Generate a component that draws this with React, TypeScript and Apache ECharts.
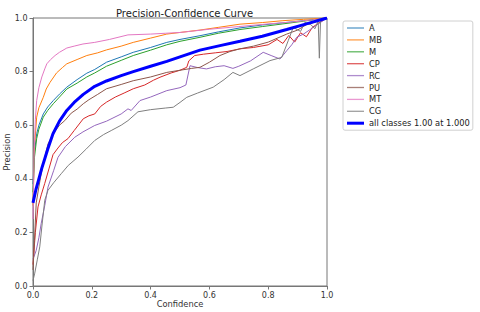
import React, { useEffect, useRef } from "react";
import * as echarts from "echarts";

const classNames = ["A", "MB", "M", "CP", "RC", "PU", "MT", "CG"];
const classColors = ["#1f77b4", "#ff7f0e", "#2ca02c", "#d62728", "#9467bd", "#8c564b", "#e377c2", "#7f7f7f"];
const allName = "all classes 1.00 at 1.000";

const curveA = [[0,0.38],[0.005,0.5],[0.0125,0.568],[0.02,0.6],[0.035,0.642],[0.05,0.668],[0.069,0.692],[0.09,0.716],[0.115,0.742],[0.15,0.77],[0.183,0.794],[0.21,0.808],[0.25,0.835],[0.3,0.855],[0.341,0.872],[0.4,0.89],[0.455,0.909],[0.5,0.92],[0.568,0.934],[0.63,0.948],[0.704,0.963],[0.78,0.974],[0.85,0.982],[0.92,0.99],[0.96,0.995],[1,1]];
const curveMB = [[0,0.3],[0.005,0.52],[0.0125,0.63],[0.02,0.665],[0.035,0.704],[0.045,0.735],[0.058,0.76],[0.08,0.795],[0.1,0.815],[0.115,0.829],[0.15,0.845],[0.183,0.86],[0.22,0.87],[0.25,0.881],[0.3,0.895],[0.341,0.909],[0.4,0.925],[0.455,0.94],[0.5,0.946],[0.568,0.955],[0.63,0.965],[0.704,0.977],[0.78,0.983],[0.85,0.99],[0.92,0.995],[1,1]];
const curveM = [[0,0.35],[0.005,0.48],[0.0125,0.55],[0.02,0.585],[0.035,0.63],[0.05,0.655],[0.069,0.68],[0.09,0.705],[0.115,0.735],[0.15,0.757],[0.183,0.78],[0.21,0.795],[0.25,0.82],[0.3,0.842],[0.341,0.86],[0.4,0.88],[0.455,0.9],[0.5,0.913],[0.568,0.928],[0.63,0.943],[0.704,0.957],[0.78,0.968],[0.85,0.978],[0.92,0.988],[0.96,0.994],[1,1]];
const curveCP = [[0,0.08],[0.008,0.2],[0.017,0.295],[0.028,0.34],[0.04,0.383],[0.055,0.44],[0.068,0.49],[0.085,0.515],[0.1,0.535],[0.119,0.55],[0.14,0.58],[0.171,0.624],[0.19,0.635],[0.21,0.642],[0.23,0.67],[0.25,0.686],[0.28,0.705],[0.31,0.72],[0.341,0.736],[0.38,0.75],[0.41,0.768],[0.432,0.779],[0.47,0.795],[0.5,0.805],[0.523,0.816],[0.53,0.84],[0.55,0.86],[0.58,0.865],[0.62,0.87],[0.66,0.875],[0.704,0.885],[0.75,0.89],[0.8,0.9],[0.83,0.92],[0.85,0.905],[0.87,0.935],[0.89,0.91],[0.91,0.945],[0.93,0.93],[0.95,0.965],[0.97,0.98],[1,1]];
const curveRC = [[0,0.1],[0.011,0.133],[0.02,0.18],[0.028,0.234],[0.04,0.3],[0.051,0.369],[0.07,0.43],[0.085,0.48],[0.11,0.52],[0.142,0.555],[0.17,0.575],[0.21,0.599],[0.25,0.615],[0.3,0.642],[0.323,0.661],[0.334,0.655],[0.364,0.692],[0.4,0.705],[0.455,0.729],[0.5,0.74],[0.52,0.75],[0.534,0.822],[0.56,0.815],[0.59,0.81],[0.62,0.818],[0.65,0.822],[0.68,0.812],[0.7,0.82],[0.74,0.84],[0.783,0.872],[0.81,0.86],[0.84,0.847],[0.863,0.878],[0.88,0.9],[0.897,0.928],[0.92,0.94],[0.94,0.955],[0.96,0.97],[0.98,0.985],[1,1]];
const curvePU = [[0,0.06],[0.005,0.17],[0.011,0.31],[0.02,0.37],[0.028,0.42],[0.04,0.48],[0.051,0.53],[0.07,0.57],[0.09,0.6],[0.108,0.617],[0.13,0.645],[0.15,0.66],[0.171,0.68],[0.19,0.695],[0.22,0.715],[0.25,0.736],[0.3,0.752],[0.341,0.766],[0.4,0.78],[0.455,0.797],[0.5,0.805],[0.54,0.812],[0.568,0.816],[0.6,0.835],[0.636,0.86],[0.67,0.875],[0.704,0.885],[0.75,0.895],[0.8,0.91],[0.863,0.94],[0.9,0.955],[0.93,0.975],[0.96,0.985],[1,1]];
const curveMT = [[0,0.25],[0.004,0.5],[0.008,0.62],[0.0125,0.692],[0.02,0.74],[0.03,0.78],[0.04,0.81],[0.047,0.829],[0.06,0.845],[0.075,0.86],[0.09,0.872],[0.115,0.888],[0.14,0.895],[0.17,0.903],[0.21,0.909],[0.26,0.92],[0.323,0.937],[0.4,0.94],[0.45,0.943],[0.5,0.946],[0.55,0.952],[0.6,0.958],[0.7,0.968],[0.8,0.978],[0.88,0.985],[0.95,0.993],[1,1]];
const curveCG = [[0,0.02],[0.006,0.048],[0.015,0.1],[0.023,0.146],[0.03,0.22],[0.04,0.32],[0.051,0.357],[0.07,0.385],[0.096,0.419],[0.12,0.45],[0.153,0.481],[0.18,0.51],[0.21,0.543],[0.24,0.565],[0.266,0.58],[0.3,0.6],[0.323,0.617],[0.357,0.65],[0.4,0.658],[0.45,0.664],[0.477,0.667],[0.5,0.685],[0.523,0.704],[0.56,0.72],[0.613,0.742],[0.65,0.77],[0.68,0.797],[0.704,0.785],[0.749,0.81],[0.806,0.841],[0.846,0.853],[0.868,0.915],[0.885,0.965],[0.91,0.95],[0.925,0.984],[0.945,0.975],[0.959,0.96],[0.97,0.99],[0.974,0.85],[0.978,0.99],[1,1]];
const curveAll = [[0,0.31],[0.01,0.36],[0.02,0.4],[0.03,0.44],[0.04,0.475],[0.05,0.51],[0.068,0.568],[0.09,0.615],[0.115,0.655],[0.14,0.685],[0.171,0.715],[0.21,0.745],[0.25,0.765],[0.3,0.785],[0.341,0.8],[0.4,0.82],[0.455,0.838],[0.5,0.855],[0.568,0.88],[0.636,0.897],[0.704,0.913],[0.78,0.932],[0.863,0.957],[0.93,0.978],[1,1]];

const classCurves = [curveA, curveMB, curveM, curveCP, curveRC, curvePU, curveMT, curveCG];

const FONT = "DejaVu Sans";
const THIN_ICON = "path://M0,0H34V2.6H0Z";
const THICK_ICON = "path://M0,0H34V6H0Z";

export default function App() {
  const ref = useRef<HTMLDivElement>(null);
  useEffect(() => {
    if (!ref.current) return;
    const chart = echarts.init(ref.current, null, { renderer: "svg" });
    const series: any[] = classNames.map((n, i) => ({
      name: n,
      type: "line",
      data: classCurves[i],
      symbol: "none",
      showSymbol: false,
      lineStyle: { color: classColors[i], width: 1 },
      itemStyle: { color: classColors[i] },
      z: 2,
    }));
    series.push({
      name: allName,
      type: "line",
      data: curveAll,
      symbol: "none",
      showSymbol: false,
      lineStyle: { color: "#0000ff", width: 3 },
      itemStyle: { color: "#0000ff" },
      z: 3,
    });
    const axisCommon = {
      type: "value",
      min: 0,
      max: 1,
      interval: 0.2,
      splitLine: { show: false },
      axisLine: { show: true, lineStyle: { color: "#777", width: 1 } },
      axisTick: { show: true, length: 3.5, lineStyle: { color: "#777" } },
      nameLocation: "middle",
      nameMoveOverlap: false,
      nameTextStyle: { fontFamily: FONT, fontSize: 8.3, color: "#333" },
    };
    chart.setOption({
      animation: false,
      backgroundColor: "#fff",
      title: {
        text: "Precision-Confidence Curve",
        left: 111,
        top: 3,
        textStyle: { fontFamily: FONT, fontSize: 10, fontWeight: "normal", color: "#222" },
      },
      grid: {
        left: 33,
        right: 153,
        top: 18,
        bottom: 26,
        containLabel: false,
        outerBoundsMode: "none",
        show: true,
        borderColor: "#777",
        borderWidth: 1,
        backgroundColor: "transparent",
      },
      xAxis: {
        ...axisCommon,
        name: "Confidence",
        nameGap: 14,
        axisLabel: {
          fontFamily: FONT,
          fontSize: 8,
          color: "#333",
          margin: 5,
          formatter: (v: number) => v.toFixed(1),
        },
      },
      yAxis: {
        ...axisCommon,
        name: "Precision",
        nameGap: 22,
        axisLabel: {
          fontFamily: FONT,
          fontSize: 8,
          color: "#333",
          margin: 5.5,
          formatter: (v: number) => v.toFixed(1),
        },
      },
      legend: {
        orient: "vertical",
        left: 343,
        top: 21,
        padding: [3, 3, 3, 4],
        itemWidth: 17,
        itemHeight: 8,
        itemGap: 3.9,
        selectedMode: false,
        borderColor: "#d0d0d0",
        borderWidth: 1,
        borderRadius: 2,
        backgroundColor: "#fff",
        textStyle: { fontFamily: FONT, fontSize: 8.3, color: "#222" },
        data: [
          ...classNames.map((n, i) => ({ name: n, icon: THIN_ICON, itemStyle: { color: classColors[i], opacity: 0.75 } })),
          { name: allName, icon: THICK_ICON, itemStyle: { color: "#0000ff" } },
        ],
      },
      series,
    });
    return () => chart.dispose();
  }, []);
  return (
    <div
      ref={ref}
      style={{ position: "fixed", left: 0, top: 0, width: 480, height: 312 }}
    />
  );
}
